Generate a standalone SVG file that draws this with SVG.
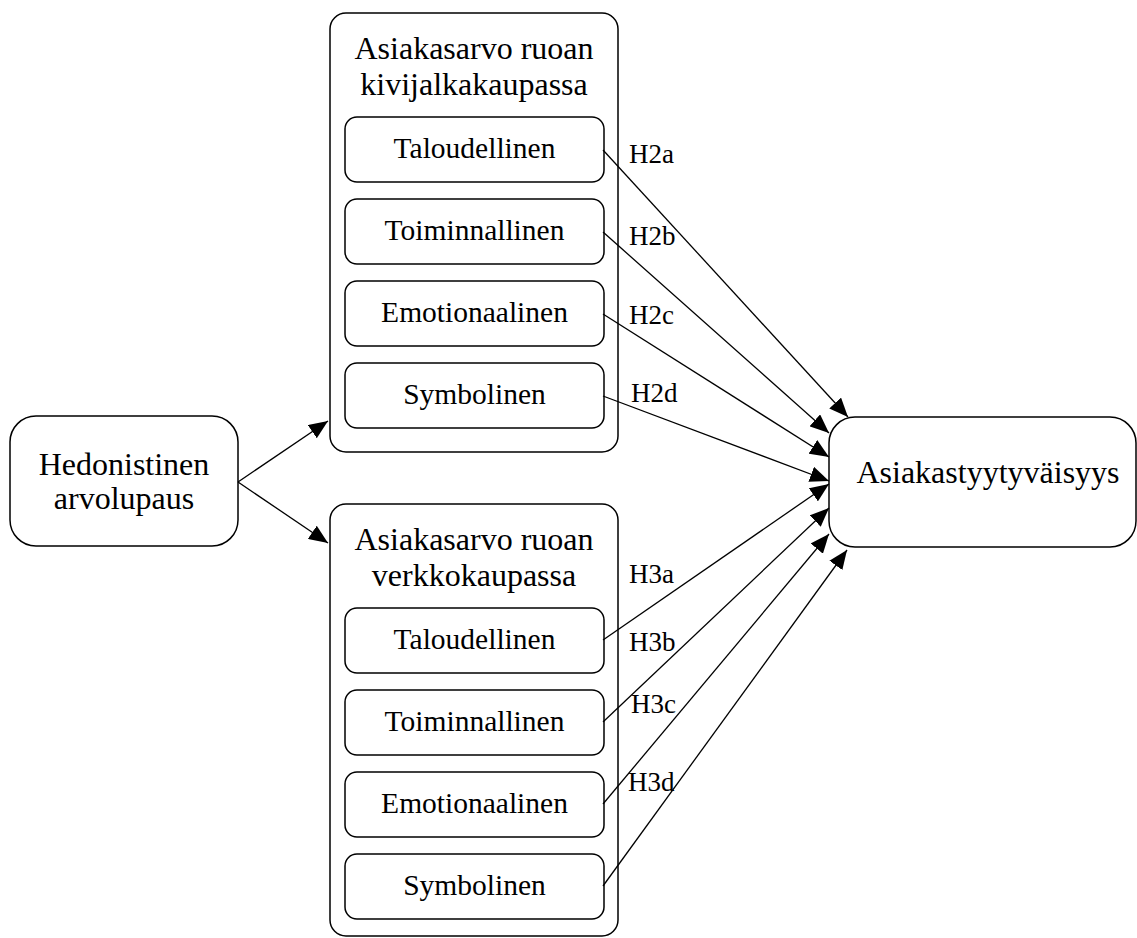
<svg xmlns="http://www.w3.org/2000/svg" width="1137" height="938" viewBox="0 0 1137 938">
<style>
.box{fill:#fff;stroke:#000;stroke-width:1.5}
.t{font-family:"Liberation Serif","Times New Roman",serif;font-size:29.5px;fill:#000;text-anchor:middle}
.big{font-size:32px}
.lb{font-family:"Liberation Serif","Times New Roman",serif;font-size:27px;fill:#000}
.c{stroke:#000;stroke-width:1.3;fill:none;marker-end:url(#ah)}
</style>
<defs>
<marker id="ah" markerUnits="userSpaceOnUse" markerWidth="20" markerHeight="16" refX="19" refY="8" orient="auto">
<path d="M0,0 L19,8 L0,16 Z" fill="#000"/>
</marker>
</defs>
<rect width="1137" height="938" fill="#fff"/>
<g id="hedon">
<rect class="box" x="10" y="416" width="228" height="130" rx="26"/>
<text class="t big" x="124" y="475">Hedonistinen</text>
<text class="t big" x="124" y="509">arvolupaus</text>
</g>
<g id="kivijalka">
<rect class="box" x="330" y="13" width="288" height="439" rx="16"/>
<text class="t big" x="474" y="59">Asiakasarvo ruoan</text>
<text class="t big" x="474" y="95">kivijalkakaupassa</text>
</g>
<g id="k1"><rect class="box" x="345" y="117" width="259" height="65" rx="12"/><text class="t" x="474.5" y="158">Taloudellinen</text></g>
<g id="k2"><rect class="box" x="345" y="199" width="259" height="65" rx="12"/><text class="t" x="474.5" y="240">Toiminnallinen</text></g>
<g id="k3"><rect class="box" x="345" y="281" width="259" height="65" rx="12"/><text class="t" x="474.5" y="322">Emotionaalinen</text></g>
<g id="k4"><rect class="box" x="345" y="363" width="259" height="65" rx="12"/><text class="t" x="474.5" y="404">Symbolinen</text></g>
<g id="verkko">
<rect class="box" x="330" y="504" width="288" height="432" rx="16"/>
<text class="t big" x="474" y="550">Asiakasarvo ruoan</text>
<text class="t big" x="474" y="586">verkkokaupassa</text>
</g>
<g id="v1"><rect class="box" x="345" y="608" width="259" height="65" rx="12"/><text class="t" x="474.5" y="649">Taloudellinen</text></g>
<g id="v2"><rect class="box" x="345" y="690" width="259" height="65" rx="12"/><text class="t" x="474.5" y="731">Toiminnallinen</text></g>
<g id="v3"><rect class="box" x="345" y="772" width="259" height="65" rx="12"/><text class="t" x="474.5" y="813">Emotionaalinen</text></g>
<g id="v4"><rect class="box" x="345" y="854" width="259" height="65" rx="12"/><text class="t" x="474.5" y="895">Symbolinen</text></g>
<g id="tyyty">
<rect class="box" x="829" y="417" width="307" height="130" rx="26"/>
<text class="t big" x="988" y="483">Asiakastyytyväisyys</text>
</g>
<g id="connectors">
<line class="c" x1="238" y1="482" x2="328" y2="421"/>
<line class="c" x1="238" y1="482" x2="328" y2="543"/>
<line class="c" x1="603" y1="150" x2="848" y2="417"/>
<line class="c" x1="603" y1="232" x2="829" y2="433"/>
<line class="c" x1="603" y1="314" x2="829" y2="457"/>
<line class="c" x1="603" y1="396" x2="829" y2="481"/>
<line class="c" x1="603" y1="640" x2="829" y2="484"/>
<line class="c" x1="603" y1="722" x2="829" y2="508"/>
<line class="c" x1="603" y1="804" x2="829" y2="534"/>
<line class="c" x1="603" y1="886" x2="847" y2="550"/>
</g>
<g id="labels">
<text class="lb" x="629" y="163">H2a</text>
<text class="lb" x="629" y="245">H2b</text>
<text class="lb" x="629" y="324">H2c</text>
<text class="lb" x="631" y="402">H2d</text>
<text class="lb" x="629" y="583">H3a</text>
<text class="lb" x="629" y="651">H3b</text>
<text class="lb" x="631" y="713">H3c</text>
<text class="lb" x="628" y="791">H3d</text>
</g>
</svg>
